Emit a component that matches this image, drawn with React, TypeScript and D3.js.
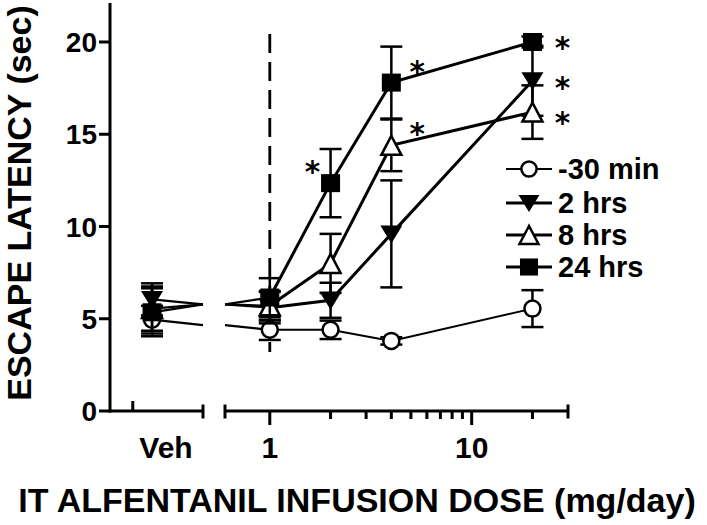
import React from "react";
import * as d3 from "d3";

// ---------- data ----------
const seriesNames = ["-30 min", "2 hrs", "8 hrs", "24 hrs"];
const doses = [1, 2, 4, 20];
const vehMean = [4.95, 6.05, 5.55, 5.35];
const vehSem = [0.75, 0.87, 1.2, 1.3];
const min30Mean = [4.4, 4.4, 3.8, 5.55];
const min30Sem = [0.55, 0.5, 0.2, 1.0];
const hrs2Mean = [5.6, 6.0, 9.6, 17.9];
const hrs2Sem = [0.85, 0.95, 2.9, 1.9];
const hrs8Mean = [5.7, 8.0, 14.4, 16.2];
const hrs8Sem = [0.8, 1.6, 1.4, 1.45];
const hrs24Mean = [6.15, 12.35, 17.8, 20.0];
const hrs24Sem = [1.05, 1.85, 1.95, 0.3];
// value where the lines meet at the axis break
const breakJoin = [4.65, 5.78, 5.78, 5.78];
const yTicks = [0, 5, 10, 15, 20];
const xMajorTicks = [1, 10];
const xMinorTicks = [2, 3, 4, 5, 6, 7, 8, 9, 20];
const asteriskDose = [2, 4, 4, 20, 20, 20];
const asteriskValue = [13.33, 18.75, 15.34, 20.02, 17.85, 15.95];
const asteriskSide = [-1, 1, 1, 1, 1, 1];

const means = [min30Mean, hrs2Mean, hrs8Mean, hrs24Mean];
const sems = [min30Sem, hrs2Sem, hrs8Sem, hrs24Sem];
const shapes = ["circle", "tridown", "triup", "square"];
const lineW = [2, 3, 3, 3];

const FONT = "'Liberation Sans', Arial, Helvetica, sans-serif";

// ---------- scales ----------
const y = d3.scaleLinear().domain([0, 20]).range([411, 42]);
const xLog = d3.scaleLog().domain([0.6, 30]).range([225, 568]);
const xVeh = d3.scaleLinear().domain([0, 1]).range([110, 203]);
const vehPos = 0.452;
const vehMinor = 0.245;

function Marker({ shape, cx, cy, s = 1 }: { shape: string; cx: number; cy: number; s?: number }) {
  const sw = 2.5;
  if (shape === "circle")
    return <circle cx={cx} cy={cy} r={8 * s} fill="#fff" stroke="#000" strokeWidth={sw} />;
  if (shape === "square")
    return <rect x={cx - 9.5 * s} y={cy - 9 * s} width={19 * s} height={18 * s} fill="#000" />;
  const h = 9.5 * s;
  const w = 10 * s;
  if (shape === "triup")
    return (
      <polygon
        points={`${cx},${cy - h} ${cx - w},${cy + h} ${cx + w},${cy + h}`}
        fill="#fff"
        stroke="#000"
        strokeWidth={sw}
        strokeLinejoin="miter"
      />
    );
  return (
    <polygon
      points={`${cx},${cy + h} ${cx - w - 1},${cy - h + 1} ${cx + w + 1},${cy - h + 1}`}
      fill="#000"
    />
  );
}

function ErrBar({ cx, m, e }: { cx: number; m: number; e: number }) {
  const y1 = y(m + e);
  const y2 = y(m - e);
  return (
    <g stroke="#000" strokeWidth={2.5}>
      <line x1={cx} x2={cx} y1={y1} y2={y2} />
      <line x1={cx - 11} x2={cx + 11} y1={y1} y2={y1} />
      <line x1={cx - 11} x2={cx + 11} y1={y2} y2={y2} />
    </g>
  );
}

export default function App() {
  const line = d3
    .line<[number, number]>()
    .x((d) => d[0])
    .y((d) => d[1]);
  const vx = xVeh(vehPos);
  const legendY = [169, 203, 235, 267];

  return (
    <svg
      width={707}
      height={525}
      style={{ position: "absolute", left: 0, top: 0, background: "#fff" }}
      fontFamily={FONT}
      fontWeight="bold"
    >
      <rect width={707} height={525} fill="#fff" />
      {/* dashed line at dose 1 */}
      <line
        x1={xLog(1)}
        x2={xLog(1)}
        y1={34}
        y2={352}
        stroke="#000"
        strokeWidth={2.8}
        strokeDasharray="19,9"
      />

      {/* series */}
      {means.map((mArr, si) => {
        const pts: [number, number][] = doses.map((d, i) => [xLog(d), y(mArr[i])]);
        const vy = y(vehMean[si]);
        return (
          <g key={si}>
            <path
              d={line([[vx, vy], [xVeh(1), y(breakJoin[si])]]) || ""}
              stroke="#000"
              strokeWidth={2.2}
              fill="none"
            />
            <path
              d={line([[xLog.range()[0], y(breakJoin[si])], pts[0]]) || ""}
              stroke="#000"
              strokeWidth={2.2}
              fill="none"
            />
            <path d={line(pts) || ""} stroke="#000" strokeWidth={lineW[si]} fill="none" />
            <ErrBar cx={vx} m={vehMean[si]} e={vehSem[si]} />
            {doses.map((d, i) => (
              <ErrBar key={i} cx={xLog(d)} m={mArr[i]} e={sems[si][i]} />
            ))}
            <Marker shape={shapes[si]} cx={vx} cy={vy} />
            {pts.map((p, i) => (
              <Marker key={i} shape={shapes[si]} cx={p[0]} cy={p[1]} />
            ))}
          </g>
        );
      })}

      {/* asterisks */}
      {asteriskDose.map((d, i) => (
        <text
          key={i}
          x={xLog(d) + asteriskSide[i] * (d === 20 ? 30 : d === 4 ? 26 : 18)}
          y={y(asteriskValue[i]) + 16.5}
          fontSize={29.5}
          fontFamily="'DejaVu Sans', sans-serif"
          textAnchor="middle"
        >
          *
        </text>
      ))}

      {/* y axis */}
      <line x1={110} x2={110} y1={3} y2={412.5} stroke="#000" strokeWidth={3} />
      {yTicks.map((t) => (
        <g key={t}>
          <line x1={99} x2={110} y1={y(t)} y2={y(t)} stroke="#000" strokeWidth={3} />
          <text x={97} y={y(t)} dy="0.36em" fontSize={28} textAnchor="end">
            {t}
          </text>
        </g>
      ))}

      {/* x axis: Veh segment */}
      <line x1={108.5} x2={xVeh(1)} y1={411} y2={411} stroke="#000" strokeWidth={3} />
      <line x1={xVeh(vehMinor)} x2={xVeh(vehMinor)} y1={401} y2={411} stroke="#000" strokeWidth={3} />
      <line x1={xVeh(1)} x2={xVeh(1)} y1={404.5} y2={418.5} stroke="#000" strokeWidth={3} />
      <text x={166} y={458} fontSize={30} textAnchor="middle">
        Veh
      </text>

      {/* x axis: log segment */}
      <line x1={xLog.range()[0]} x2={xLog.range()[1]} y1={411} y2={411} stroke="#000" strokeWidth={3} />
      <line x1={xLog.range()[0]} x2={xLog.range()[0]} y1={404.5} y2={418.5} stroke="#000" strokeWidth={3} />
      <line x1={xLog.range()[1]} x2={xLog.range()[1]} y1={404.5} y2={418.5} stroke="#000" strokeWidth={3} />
      {xMinorTicks.map((t) => (
        <line key={t} x1={xLog(t)} x2={xLog(t)} y1={411} y2={419} stroke="#000" strokeWidth={3} />
      ))}
      {xMajorTicks.map((t) => (
        <g key={t}>
          <line x1={xLog(t)} x2={xLog(t)} y1={411} y2={425} stroke="#000" strokeWidth={3} />
          <text x={xLog(t)} y={458} fontSize={30} textAnchor="middle">
            {t}
          </text>
        </g>
      ))}

      {/* legend */}
      {seriesNames.map((n, i) => (
        <g key={n}>
          <line
            x1={506}
            x2={552}
            y1={legendY[i]}
            y2={legendY[i]}
            stroke="#000"
            strokeWidth={lineW[i]}
          />
          <Marker shape={shapes[i]} cx={529} cy={legendY[i]} s={0.95} />
          <text x={558} y={legendY[i]} dy="0.36em" fontSize={29}>
            {n}
          </text>
        </g>
      ))}

      {/* titles */}
      <text x={357} y={512} fontSize={34} textAnchor="middle">
        IT ALFENTANIL INFUSION DOSE (mg/day)
      </text>
      <text
        transform={`translate(31,203) rotate(-90)`}
        fontSize={34}
        textAnchor="middle"
      >
        ESCAPE LATENCY (sec)
      </text>
    </svg>
  );
}
